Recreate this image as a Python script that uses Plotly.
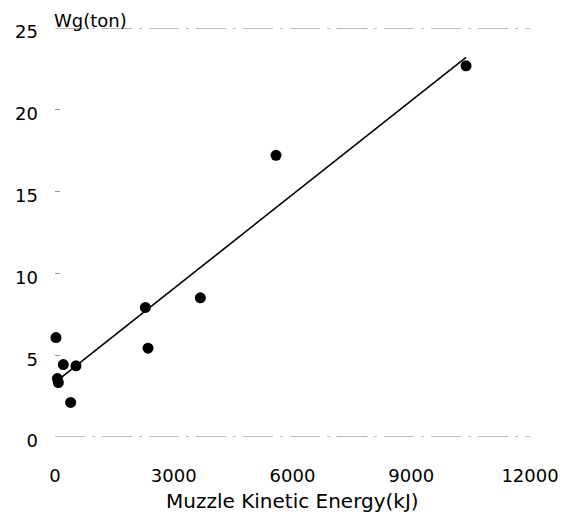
import numpy as np
import plotly.graph_objects as go

# Data
energy_kj = [25, 60, 85, 210, 395, 530, 2283, 2350, 3672, 5584, 10384]
weight_ton = [6.08, 3.57, 3.33, 4.43, 2.11, 4.35, 7.92, 5.43, 8.51, 17.22, 22.69]

x_ticks = [0, 3000, 6000, 9000, 12000]
y_ticks = [0, 5, 10, 15, 20, 25]
x_title = "Muzzle Kinetic Energy(kJ)"
y_title = "Wg(ton)"

# Linear regression line
slope, intercept = np.polyfit(energy_kj, weight_ton, 1)
fit_x = [min(energy_kj), max(energy_kj)]
fit_y = [slope * v + intercept for v in fit_x]

FONT = "DejaVu Sans"

fig = go.Figure()
fig.add_trace(go.Scatter(x=fit_x, y=fit_y, mode="lines",
                         line=dict(color="black", width=1.6),
                         hoverinfo="skip", showlegend=False))
fig.add_trace(go.Scatter(x=energy_kj, y=weight_ton, mode="markers",
                         marker=dict(color="black", size=11),
                         cliponaxis=False, showlegend=False))

# dashed reference lines at bottom and top of the y range
for yv in (y_ticks[0], y_ticks[-1]):
    fig.add_shape(type="line", xref="x", yref="y",
                  x0=x_ticks[0], x1=x_ticks[-1], y0=yv, y1=yv,
                  line=dict(color="#7a7a7a", width=1.2, dash="30px,7px,3px,7px"))

# y-axis label on top of the axis
fig.add_annotation(x=x_ticks[0], y=y_ticks[-1], xref="x", yref="y",
                   text=y_title, showarrow=False, xanchor="left", yanchor="bottom",
                   yshift=-5, xshift=-3,
                   font=dict(family=FONT, size=18, color="black"))

# x-axis title below tick labels
fig.add_annotation(x=0.5, y=0, xref="paper", yref="paper",
                   text=x_title, showarrow=False, xanchor="center", yanchor="middle",
                   yshift=-64,
                   font=dict(family=FONT, size=20, color="black"))

# page body has an 8px margin, so the figure is sized to fill the window
fig.update_layout(
    width=561, height=507,
    margin=dict(l=47, r=39, t=20, b=78),
    paper_bgcolor="white", plot_bgcolor="white",
    font=dict(family=FONT, size=18, color="black"),
    xaxis=dict(range=[x_ticks[0], x_ticks[-1]], tickvals=x_ticks,
               ticktext=[str(v) for v in x_ticks], automargin=False,
               showgrid=False, zeroline=False, showline=False, ticks="",
               ticklabelstandoff=26),
    yaxis=dict(range=[y_ticks[0], y_ticks[-1]], tickvals=y_ticks,
               ticktext=[str(v) for v in y_ticks], automargin=False,
               showgrid=False, zeroline=False, showline=False,
               ticks="inside", ticklen=5, tickcolor="#999999", tickwidth=1,
               ticklabelstandoff=16, ticklabelshift=4),
)

fig.write_html("out.html")
